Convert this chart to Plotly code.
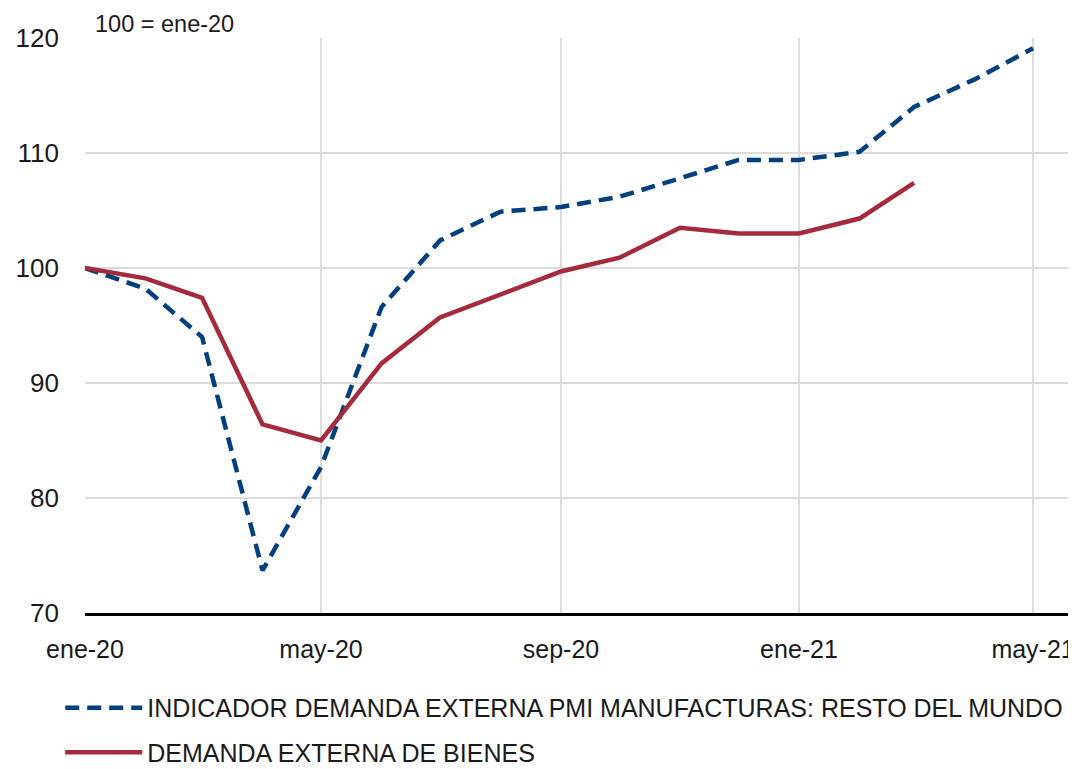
import plotly.graph_objects as go

months = ["2020-01-01", "2020-02-01", "2020-03-01", "2020-04-01", "2020-05-01", "2020-06-01",
          "2020-07-01", "2020-08-01", "2020-09-01", "2020-10-01", "2020-11-01", "2020-12-01",
          "2021-01-01", "2021-02-01", "2021-03-01", "2021-04-01", "2021-05-01"]
pmi = [100.0, 98.2, 94.0, 73.7, 82.7, 96.6, 102.4, 104.9, 105.3, 106.2, 107.8, 109.4,
       109.4, 110.1, 114.0, 116.4, 119.1]
bienes = [100.0, 99.1, 97.4, 86.4, 85.0, 91.7, 95.7, 97.7, 99.7, 100.9, 103.5, 103.0,
          103.0, 104.3, 107.4]

tick_vals = ["2020-01-01", "2020-05-01", "2020-09-01", "2021-01-01", "2021-05-01"]
tick_text = ["ene-20", "may-20", "sep-20", "ene-21", "may-21"]
name_pmi = "INDICADOR DEMANDA EXTERNA PMI MANUFACTURAS: RESTO DEL MUNDO"
name_bienes = "DEMANDA EXTERNA DE BIENES"

FONT = "Liberation Sans"

fig = go.Figure()
fig.add_trace(go.Scatter(x=months, y=pmi, mode="lines", name=name_pmi, legendgroup="a",
                         line=dict(color="#00407f", width=4.5, dash="14px,8px")))
fig.add_trace(go.Scatter(x=months[:len(bienes)], y=bienes, mode="lines", name=name_bienes,
                         legendgroup="b", line=dict(color="#a52a3b", width=4.5)))

# The page body has an 8px default margin, so the figure is 8px smaller and shifted.
fig.update_layout(
    width=1068, height=761,
    margin=dict(l=77, r=0, t=30, b=156, autoexpand=False),
    paper_bgcolor="white", plot_bgcolor="white",
    font=dict(family=FONT, size=25, color="#1a1a1a"),
    showlegend=True,
    legend=dict(orientation="v", x=-0.025, xanchor="left", y=-0.125, yanchor="top",
                font=dict(size=25, family=FONT), tracegroupgap=9, itemwidth=77,
                bgcolor="rgba(0,0,0,0)"),
    xaxis=dict(type="date", range=["2020-01-01", "2021-05-23"], tickvals=tick_vals,
               ticktext=tick_text, showgrid=True, gridcolor="#dcdcdc", gridwidth=1.5,
               showline=True, linecolor="black", linewidth=3, ticks="", zeroline=False,
               automargin=False, ticklabelstandoff=12, ticklabeloverflow="allow",
               tickfont=dict(size=25)),
    yaxis=dict(range=[70, 120], tickvals=[70, 80, 90, 100, 110, 120], showgrid=True,
               gridcolor="#dcdcdc", gridwidth=1.5, showline=False, zeroline=False, ticks="",
               automargin=False, ticklabelstandoff=25, tickfont=dict(size=26)),
    annotations=[dict(text="100 = ene-20", xref="paper", yref="paper", x=0.008, y=1.0,
                      xanchor="left", yanchor="bottom", showarrow=False, yshift=-1,
                      font=dict(size=23.5, family=FONT))],
)

fig.write_html("out.html")
